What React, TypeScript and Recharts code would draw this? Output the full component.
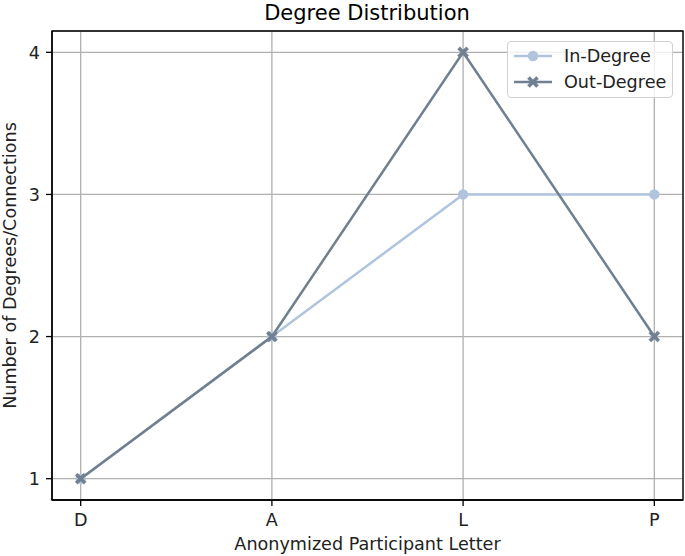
import React from "react";
import {
    LineChart,
    Line,
    XAxis,
    YAxis,
    CartesianGrid,
    ReferenceArea,
    Label,
} from "recharts";

const participants = ["D", "A", "L", "P"];
const inDegree = [1, 2, 3, 3];
const outDegree = [1, 2, 4, 2];
const yTicks = [1, 2, 3, 4];

const IN_COLOR = "#b0c4de";
const OUT_COLOR = "#708090";
const FONT = "DejaVu Sans, sans-serif";
const FS = 17.6;

const data = participants.map((p, i) => ({
    idx: i,
    name: p,
    inDeg: inDegree[i],
    outDeg: outDegree[i],
}));

// filled "X" marker like matplotlib's 'X'
function XMark({ cx, cy, color, size = 5 }: any) {
    if (cx == null || cy == null) return null;
    const s = size;
    const w = s * 0.42;
    const pts = [
        [-s + w, -s], [0, -w], [s - w, -s], [s, -s + w], [w, 0], [s, s - w],
        [s - w, s], [0, w], [-s + w, s], [-s, s - w], [-w, 0], [-s, -s + w],
    ]
        .map(([x, y]) => `${cx + x},${cy + y}`)
        .join(" ");
    return <polygon points={pts} fill={color} stroke={color} strokeWidth={0.5} />;
}

function LegendBox() {
    const row = (label: string, color: string, marker: "o" | "x") => (
        <div style={{ display: "flex", alignItems: "center", height: 26 }}>
            <svg width={44} height={14} style={{ marginRight: 10 }}>
                <line x1={4} y1={7} x2={42} y2={7} stroke={color} strokeWidth={2.5} />
                {marker === "o" ? (
                    <circle cx={23} cy={7} r={5.2} fill={color} />
                ) : (
                    <XMark cx={23} cy={7} color={color} size={5.5} />
                )}
            </svg>
            <span>{label}</span>
        </div>
    );
    return (
        <div
            style={{
                position: "absolute",
                left: 507,
                top: 41,
                width: 166,
                height: 57,
                border: "1px solid #d0d0d0",
                borderRadius: 4,
                background: "rgba(255,255,255,0.8)",
                fontFamily: FONT,
                fontSize: FS,
                color: "#222",
                boxSizing: "border-box",
                padding: "1px 0 0 2px",
                whiteSpace: "nowrap",
            }}
        >
            {row("In-Degree", IN_COLOR, "o")}
            {row("Out-Degree", OUT_COLOR, "x")}
        </div>
    );
}

export default function App() {
    return (
        <div style={{ position: "absolute", left: 0, top: 0, width: 685, height: 556, background: "#fff" }}>
            <LineChart
                width={685}
                height={556}
                data={data}
                margin={{ top: 31, right: 2, bottom: 0, left: 0 }}
            >
                <text x={367} y={20} textAnchor="middle" fontSize={21} fontFamily={FONT} fill="#000">
                    Degree Distribution
                </text>
                <CartesianGrid stroke="#b0b0b0" strokeWidth={1.3} />
                <XAxis
                    dataKey="idx"
                    type="number"
                    domain={[-0.15, 3.15]}
                    ticks={[0, 1, 2, 3]}
                    tickFormatter={(v) => participants[v] ?? ""}
                    height={56}
                    tickSize={6}
                    tickMargin={8}
                    axisLine={{ stroke: "#000", strokeWidth: 1.3 }}
                    tickLine={{ stroke: "#000", strokeWidth: 1.3 }}
                    tick={{ fill: "#222", fontSize: FS, fontFamily: FONT }}
                    allowDataOverflow
                >
                    <Label
                        content={({ viewBox }: any) => (
                            <text
                                x={viewBox.x + viewBox.width / 2}
                                y={viewBox.y + 50}
                                textAnchor="middle"
                                fontSize={FS}
                                fontFamily={FONT}
                                fill="#222"
                            >
                                Anonymized Participant Letter
                            </text>
                        )}
                    />
                </XAxis>
                <YAxis
                    type="number"
                    domain={[0.85, 4.15]}
                    ticks={yTicks}
                    width={52}
                    tickSize={6}
                    tickMargin={6}
                    axisLine={{ stroke: "#000", strokeWidth: 1.3 }}
                    tickLine={{ stroke: "#000", strokeWidth: 1.3 }}
                    tick={{ fill: "#222", fontSize: FS, fontFamily: FONT }}
                    allowDataOverflow
                >
                    <Label
                        content={({ viewBox }: any) => {
                            const cx = 16;
                            const cy = viewBox.y + viewBox.height / 2;
                            return (
                                <text
                                    x={cx}
                                    y={cy}
                                    transform={`rotate(-90, ${cx}, ${cy})`}
                                    textAnchor="middle"
                                    fontSize={FS}
                                    fontFamily={FONT}
                                    fill="#222"
                                >
                                    Number of Degrees/Connections
                                </text>
                            );
                        }}
                    />
                </YAxis>
                <ReferenceArea
                    x1={-0.15}
                    x2={3.15}
                    y1={0.85}
                    y2={4.15}
                    fill="none"
                    stroke="#000"
                    strokeWidth={1.3}
                    ifOverflow="visible"
                />
                <Line
                    dataKey="inDeg"
                    name="In-Degree"
                    type="linear"
                    stroke={IN_COLOR}
                    strokeWidth={2.5}
                    dot={{ r: 5.2, fill: IN_COLOR, stroke: IN_COLOR, strokeWidth: 0 }}
                    activeDot={false}
                    isAnimationActive={false}
                />
                <Line
                    dataKey="outDeg"
                    name="Out-Degree"
                    type="linear"
                    stroke={OUT_COLOR}
                    strokeWidth={2.5}
                    dot={(p: any) => <XMark key={p.index} cx={p.cx} cy={p.cy} color={OUT_COLOR} size={5.5} />}
                    activeDot={false}
                    isAnimationActive={false}
                />
            </LineChart>
            <LegendBox />
        </div>
    );
}
